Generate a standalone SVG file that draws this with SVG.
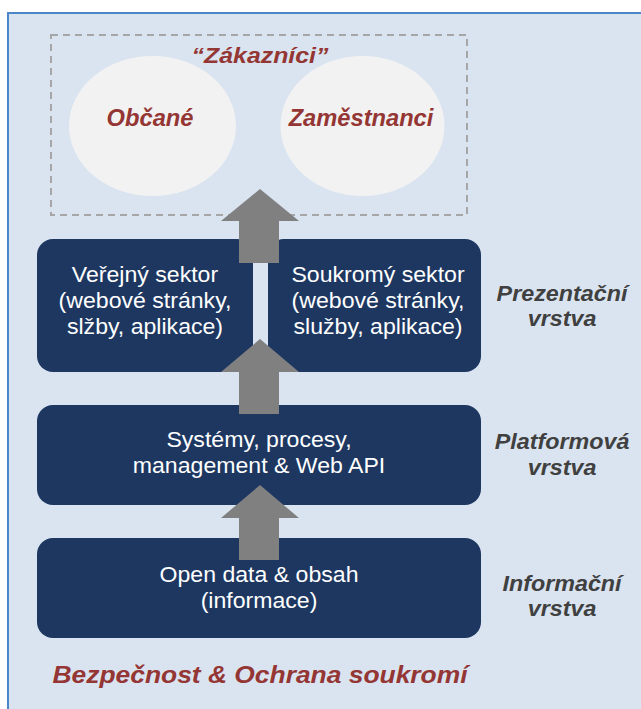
<svg xmlns="http://www.w3.org/2000/svg" width="641" height="709" viewBox="0 0 641 709">
<style>
.box{fill:#1d3761}
.wt{fill:#ffffff;font-family:"Liberation Sans",Arial,sans-serif;font-size:22px;text-anchor:middle}
.lbl{fill:#404040;font-family:"Liberation Sans",Arial,sans-serif;font-size:22px;font-weight:bold;font-style:italic;text-anchor:middle}
.red{fill:#943634;font-family:"Liberation Sans",Arial,sans-serif;font-weight:bold;font-style:italic;text-anchor:middle}
.arr{fill:#808080}
</style>
<rect x="0" y="0" width="641" height="709" fill="#ffffff"/>
<rect x="8" y="13" width="640" height="705" fill="#dae4f0" stroke="#4a86c8" stroke-width="2"/>
<g id="customers">
<rect x="51" y="35" width="416" height="180" fill="none" stroke="#a6a6a6" stroke-width="2" stroke-dasharray="7,5"/>
<text class="red" font-size="22" transform="translate(260,63) scale(1.13,1)">“Zákazníci”</text>
</g>
<g id="obcane">
<ellipse cx="152.5" cy="126" rx="83.5" ry="70" fill="#f2f2f2"/>
<text class="red" font-size="23" transform="translate(150,126) scale(1.03,1)">Občané</text>
</g>
<g id="zamestnanci">
<ellipse cx="362.5" cy="126" rx="82" ry="70" fill="#f2f2f2"/>
<text class="red" font-size="23" transform="translate(361,126) scale(1.03,1)">Zaměstnanci</text>
</g>
<g id="verejny">
<rect class="box" x="37" y="239" width="216" height="133" rx="16"/>
<text class="wt" transform="translate(145,282) scale(1.05,1)">Veřejný sektor</text>
<text class="wt" transform="translate(145,308) scale(1.05,1)">(webové stránky,</text>
<text class="wt" transform="translate(145,334) scale(1.05,1)">slžby, aplikace)</text>
</g>
<g id="soukromy">
<rect class="box" x="268" y="239" width="213" height="133" rx="16"/>
<text class="wt" transform="translate(378,282) scale(1.05,1)">Soukromý sektor</text>
<text class="wt" transform="translate(378,308) scale(1.05,1)">(webové stránky,</text>
<text class="wt" transform="translate(378,334) scale(1.05,1)">služby, aplikace)</text>
</g>
<g id="platforma">
<rect class="box" x="37" y="405" width="444" height="100" rx="16"/>
<text class="wt" transform="translate(259,447) scale(1.05,1)">Systémy, procesy,</text>
<text class="wt" transform="translate(259,473) scale(1.05,1)">management &amp; Web API</text>
</g>
<g id="informace">
<rect class="box" x="37" y="538" width="444" height="100" rx="16"/>
<text class="wt" transform="translate(259,582) scale(1.05,1)">Open data &amp; obsah</text>
<text class="wt" transform="translate(259,608) scale(1.05,1)">(informace)</text>
</g>
<g id="labels">
<text class="lbl" transform="translate(562,301) scale(1.06,1)">Prezentační</text>
<text class="lbl" transform="translate(562,326) scale(1.06,1)">vrstva</text>
<text class="lbl" transform="translate(562,449) scale(1.06,1)">Platformová</text>
<text class="lbl" transform="translate(562,475) scale(1.06,1)">vrstva</text>
<text class="lbl" transform="translate(562,591) scale(1.06,1)">Informační</text>
<text class="lbl" transform="translate(562,616) scale(1.06,1)">vrstva</text>
<text class="red" font-size="24" transform="translate(260,683) scale(1.1,1)">Bezpečnost &amp; Ochrana soukromí</text>
</g>
<g id="connectors">
<polygon class="arr" points="260,189 299,221 279,221 279,263 239,263 239,221 221,221"/>
<polygon class="arr" points="260,339 299,372 279,372 279,414 239,414 239,372 221,372"/>
<polygon class="arr" points="260,485 299,518 279,518 279,560 239,560 239,518 221,518"/>
</g>
</svg>
